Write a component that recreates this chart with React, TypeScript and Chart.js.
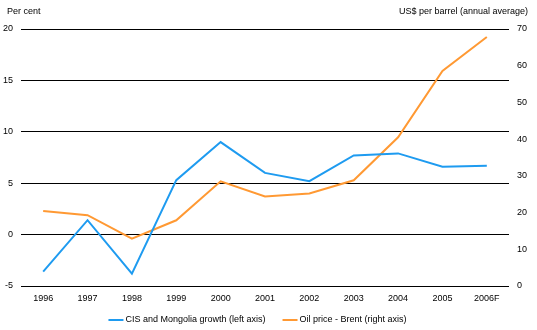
import { useEffect, useRef } from 'react';
import { Chart, registerables } from 'chart.js';

Chart.register(...registerables);

const years = ['1996', '1997', '1998', '1999', '2000', '2001', '2002', '2003', '2004', '2005', '2006F'];
const cisGrowth = [-3.6, 1.4, -3.8, 5.3, 9.0, 6.0, 5.2, 7.7, 7.9, 6.6, 6.7];
const brentPrice = [20.4, 19.3, 12.9, 17.9, 28.5, 24.4, 25.2, 28.8, 40.5, 58.6, 67.8];
const leftTicks = [-5, 0, 5, 10, 15, 20];
const rightTicks = [0, 10, 20, 30, 40, 50, 60, 70];
const leftAxisTitle = 'Per cent';
const rightAxisTitle = 'US$ per barrel (annual average)';
const seriesLabels = ['CIS and Mongolia growth (left axis)', 'Oil price - Brent (right axis)'];

const FAMILY = 'Arial, "Liberation Sans", sans-serif';
const BLUE = '#1E9BF0';
const ORANGE = '#FF9933';

export default function App() {
  const ref = useRef<HTMLCanvasElement>(null);

  useEffect(() => {
    document.body.style.margin = '0';
    const font = { family: FAMILY, size: 9 };
    const textPlugin = {
      id: 'titlesAndLegend',
      afterDraw(chart: any) {
        const { ctx, chartArea } = chart;
        ctx.save();
        ctx.font = `9px ${FAMILY}`;
        ctx.fillStyle = '#000';
        ctx.textBaseline = 'middle';
        ctx.textAlign = 'left';
        ctx.fillText(leftAxisTitle, 7, chartArea.top - 17);
        ctx.textAlign = 'right';
        ctx.fillText(rightAxisTitle, chart.width - 9, chartArea.top - 17);

        // legend
        const lineW = 15;
        const textGap = 2;
        const itemGap = 17;
        const ds = chart.data.datasets;
        const widths = ds.map((d: any) => lineW + textGap + ctx.measureText(d.label).width);
        const total = widths.reduce((a: number, b: number) => a + b, 0) + itemGap * (ds.length - 1);
        let x = 257.5 - total / 2;
        const y = chartArea.bottom + 34;
        ctx.textAlign = 'left';
        ds.forEach((d: any, i: number) => {
          ctx.strokeStyle = d.borderColor;
          ctx.lineWidth = 2;
          ctx.beginPath();
          ctx.moveTo(x, y);
          ctx.lineTo(x + lineW, y);
          ctx.stroke();
          ctx.fillStyle = '#000';
          ctx.fillText(d.label, x + lineW + textGap, y);
          x += widths[i] + itemGap;
        });
        ctx.restore();
      },
    };

    const chart = new Chart(ref.current as HTMLCanvasElement, {
      type: 'line',
      data: {
        labels: years,
        datasets: [
          {
            label: seriesLabels[0],
            data: cisGrowth,
            borderColor: BLUE,
            backgroundColor: BLUE,
            borderWidth: 2,
            pointRadius: 0,
            tension: 0,
            yAxisID: 'y',
          },
          {
            label: seriesLabels[1],
            data: brentPrice,
            borderColor: ORANGE,
            backgroundColor: ORANGE,
            borderWidth: 2,
            pointRadius: 0,
            tension: 0,
            yAxisID: 'y1',
          },
        ],
      },
      options: {
        responsive: false,
        animation: false,
        layout: { padding: { top: 29, left: 0, right: 0, bottom: 0 } },
        plugins: {
          legend: { display: false },
          tooltip: { enabled: false },
        },
        scales: {
          x: {
            offset: true,
            grid: { display: false, drawTicks: false },
            border: { display: false },
            ticks: { color: '#000', font, maxRotation: 0, autoSkip: false, padding: 7 },
            afterFit: (s: any) => {
              s.height = 44;
            },
          },
          y: {
            position: 'left',
            min: -5,
            max: 20,
            afterBuildTicks: (s: any) => {
              s.ticks = leftTicks.map((v) => ({ value: v }));
            },
            grid: { color: '#000', lineWidth: 1, drawTicks: false },
            border: { display: false },
            ticks: { color: '#000', font, padding: 8 },
            afterFit: (s: any) => {
              s.width = 21;
            },
          },
          y1: {
            position: 'right',
            min: 0,
            max: 70,
            afterBuildTicks: (s: any) => {
              s.ticks = rightTicks.map((v) => ({ value: v }));
            },
            grid: { display: false, drawTicks: false },
            border: { display: false },
            ticks: { color: '#000', font, padding: 8 },
            afterFit: (s: any) => {
              s.width = 28;
            },
          },
        },
      },
      plugins: [textPlugin],
    });
    return () => chart.destroy();
  }, []);

  return <canvas ref={ref} width={537} height={330} style={{ display: 'block' }} />;
}
